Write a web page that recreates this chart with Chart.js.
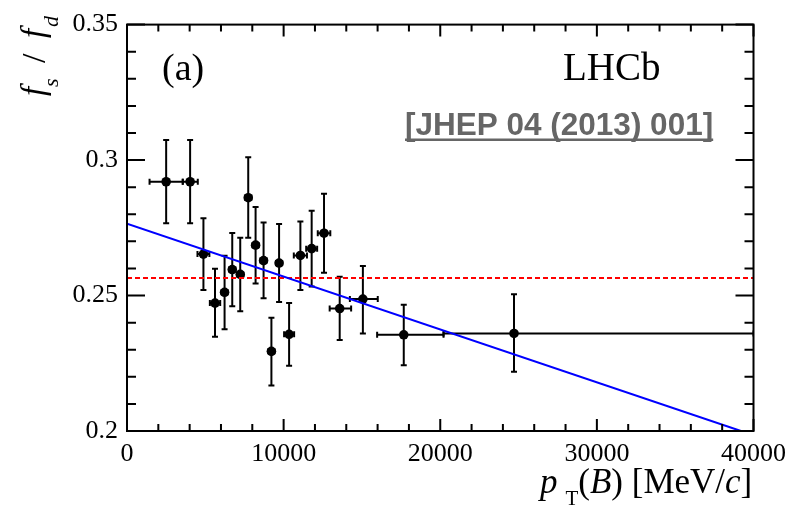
<!DOCTYPE html>
<html>
<head>
<meta charset="utf-8">
<script src="https://cdn.jsdelivr.net/npm/chart.js@4.4.1/dist/chart.umd.min.js"></script>
<style>
    html, body { margin: 0; padding: 0; background: #ffffff; }
    #wrap { width: 794px; height: 509px; position: relative; }
</style>
</head>
<body>
<div id="wrap"><canvas id="fsfdChart"></canvas></div>
<script>
// f_s/f_d in bins of B transverse momentum
const ptValues = [2500, 4030, 4880, 5620, 6230, 6720, 7230, 7740, 8210, 8720, 9220, 9710, 10350, 11070, 11790, 12580, 13580, 15060, 17670, 24710];
const ptErrLow = [1060, 470, 380, 330, 200, 200, 200, 200, 200, 200, 200, 200, 320, 420, 350, 400, 640, 830, 1700, 4500];
const ptErrHigh = [1060, 490, 380, 330, 200, 200, 200, 200, 200, 200, 200, 200, 320, 420, 350, 400, 730, 950, 2540, 15290];
const ratioValues = [0.2920, 0.2920, 0.2653, 0.2472, 0.2512, 0.2596, 0.2578, 0.2861, 0.2686, 0.2629, 0.2294, 0.2620, 0.2357, 0.2648, 0.2673, 0.2730, 0.2452, 0.2487, 0.2355, 0.2360];
const ratioErrHigh = [0.0154, 0.0154, 0.0132, 0.0127, 0.0135, 0.0135, 0.0135, 0.0149, 0.0141, 0.0141, 0.0124, 0.0144, 0.0115, 0.0125, 0.0140, 0.0146, 0.0117, 0.0122, 0.0111, 0.0145];
const ratioErrLow = [0.0153, 0.0153, 0.0133, 0.0124, 0.0136, 0.0136, 0.0136, 0.0148, 0.0142, 0.0139, 0.0126, 0.0144, 0.0116, 0.0128, 0.0140, 0.0146, 0.0116, 0.0127, 0.0112, 0.0141];

// linear fit and average value
const fitX = [0, 39200];
const fitY = [0.2765, 0.2];
const averageX = [0, 40000];
const averageY = [0.2565, 0.2565];

// axis ticks
const xTickValues = [0, 10000, 20000, 30000, 40000];
const xTickLabels = ['0', '10000', '20000', '30000', '40000'];
const yTickValues = [0.2, 0.25, 0.3, 0.35];
const yTickLabels = ['0.2', '0.25', '0.3', '0.35'];

const SERIF = '"Liberation Serif", "Times New Roman", Tinos, "DejaVu Serif", serif';

// error bars with small end caps, drawn under the markers
const errorBarPlugin = {
    id: 'errorBars',
    beforeDatasetsDraw(chart) {
        const ctx = chart.ctx;
        const xs = chart.scales.x, ys = chart.scales.y;
        const area = chart.chartArea;
        const cap = 3;
        ctx.save();
        ctx.beginPath();
        ctx.rect(area.left, area.top, area.right - area.left, area.bottom - area.top);
        ctx.clip();
        ctx.strokeStyle = '#000000';
        ctx.lineWidth = 2;
        ptValues.forEach((x, i) => {
            const px = xs.getPixelForValue(x);
            const py = ys.getPixelForValue(ratioValues[i]);
            const x0 = xs.getPixelForValue(x - ptErrLow[i]);
            const x1 = xs.getPixelForValue(x + ptErrHigh[i]);
            const y0 = ys.getPixelForValue(ratioValues[i] - ratioErrLow[i]);
            const y1 = ys.getPixelForValue(ratioValues[i] + ratioErrHigh[i]);
            ctx.beginPath();
            ctx.moveTo(x0, py); ctx.lineTo(x1, py);
            ctx.moveTo(px, y0); ctx.lineTo(px, y1);
            // caps
            ctx.moveTo(x0, py - cap); ctx.lineTo(x0, py + cap);
            ctx.moveTo(x1, py - cap); ctx.lineTo(x1, py + cap);
            ctx.moveTo(px - cap, y0); ctx.lineTo(px + cap, y0);
            ctx.moveTo(px - cap, y1); ctx.lineTo(px + cap, y1);
            ctx.stroke();
        });
        ctx.restore();
    }
};

// frame with inward ticks on all four sides, plus the labels
const framePlugin = {
    id: 'rootFrame',
    afterDraw(chart) {
        const ctx = chart.ctx;
        const xs = chart.scales.x, ys = chart.scales.y;
        const a = chart.chartArea;
        ctx.save();
        ctx.strokeStyle = '#000000';
        ctx.lineWidth = 2;
        ctx.strokeRect(a.left, a.top, a.right - a.left, a.bottom - a.top);

        ctx.beginPath();
        for (let v = 0; v <= 40000; v += 2000) {
            const px = xs.getPixelForValue(v);
            const len = v % 10000 === 0 ? 12 : 7;
            ctx.moveTo(px, a.bottom); ctx.lineTo(px, a.bottom - len);
            ctx.moveTo(px, a.top); ctx.lineTo(px, a.top + len);
        }
        for (let k = 0; k <= 15; k++) {
            const py = ys.getPixelForValue(0.2 + k * 0.01);
            const len = k % 5 === 0 ? 18 : 9;
            ctx.moveTo(a.left, py); ctx.lineTo(a.left + len, py);
            ctx.moveTo(a.right, py); ctx.lineTo(a.right - len, py);
        }
        ctx.stroke();

        ctx.fillStyle = '#000000';
        ctx.textBaseline = 'alphabetic';
        ctx.textAlign = 'left';

        // (a) and LHCb
        ctx.font = '38px ' + SERIF;
        ctx.fillText('(a)', 162, 80);
        ctx.font = '39px ' + SERIF;
        ctx.fillText('LHCb', 563, 80);

        // journal reference, underlined
        ctx.fillStyle = '#666666';
        ctx.font = 'bold 31.5px "Liberation Sans", Arial, sans-serif';
        const ref = '[JHEP 04 (2013) 001]';
        const refW = ctx.measureText(ref).width;
        ctx.fillText(ref, 405, 135);
        ctx.fillRect(405, 138.5, refW, 2.5);

        // x title: p_T(B) [MeV/c]
        ctx.fillStyle = '#000000';
        let x = 540;
        const base = 493;
        const seg = (text, font, dx, dy) => {
            ctx.font = font;
            ctx.fillText(text, x + dx, base + dy);
            x += dx + ctx.measureText(text).width;
        };
        seg('p', 'italic 35px ' + SERIF, 0, 0);
        seg('T', '21px ' + SERIF, 8, 12);
        seg('(', '35px ' + SERIF, 0, 0);
        seg('B', 'italic 35px ' + SERIF, 0, 0);
        seg(') [MeV/', '35px ' + SERIF, 0, 0);
        seg('c', 'italic 35px ' + SERIF, 0, 0);
        seg(']', '35px ' + SERIF, 0, 0);

        // y title: f_s / f_d, rotated to read upwards
        ctx.translate(44, 100);
        ctx.rotate(-Math.PI / 2);
        const ytext = (text, font, along, drop) => {
            ctx.font = font;
            ctx.fillText(text, along, drop);
        };
        ytext('f', 'italic 33px ' + SERIF, 4, 0);
        ytext('s', 'italic 22px ' + SERIF, 13, 14);
        ytext('/', '34px ' + SERIF, 37, 1);
        ytext('f', 'italic 33px ' + SERIF, 62, 0);
        ytext('d', 'italic 22px ' + SERIF, 73, 14);
        ctx.restore();
    }
};

const ctx = document.getElementById('fsfdChart').getContext('2d');
const chart = new Chart(ctx, {
    type: 'scatter',
    data: {
        datasets: [
            {
                label: 'fit',
                data: fitX.map((x, i) => ({ x: x, y: fitY[i] })),
                showLine: true,
                borderColor: '#0000ff',
                borderWidth: 2,
                pointRadius: 0,
                order: 0
            },
            {
                label: 'average',
                data: averageX.map((x, i) => ({ x: x, y: averageY[i] })),
                showLine: true,
                borderColor: '#ff0000',
                borderWidth: 2,
                borderDash: [5, 3],
                pointRadius: 0,
                order: 0
            },
            {
                label: 'data',
                data: ptValues.map((x, i) => ({ x: x, y: ratioValues[i] })),
                pointRadius: 4.8,
                pointBorderWidth: 0,
                pointBackgroundColor: '#000000',
                pointBorderColor: '#000000',
                order: 1
            }
        ]
    },
    options: {
        responsive: true,
        maintainAspectRatio: false,
        animation: false,
        layout: { padding: { top: 15, right: 38, left: 0, bottom: 0 } },
        plugins: {
            legend: { display: false },
            tooltip: { enabled: false }
        },
        scales: {
            x: {
                type: 'linear',
                min: 0,
                max: 40000,
                grid: { display: false, drawTicks: false },
                border: { display: false },
                afterBuildTicks: (s) => { s.ticks = xTickValues.map(v => ({ value: v })); },
                afterFit: (s) => { s.height = 78; },
                ticks: {
                    autoSkip: false,
                    maxRotation: 0,
                    padding: 8,
                    color: '#000000',
                    font: { family: SERIF, size: 26 },
                    callback: (v, i) => xTickLabels[i]
                }
            },
            y: {
                type: 'linear',
                min: 0.2,
                max: 0.35,
                grid: { display: false, drawTicks: false },
                border: { display: false },
                afterBuildTicks: (s) => { s.ticks = yTickValues.map(v => ({ value: v })); },
                afterFit: (s) => { s.width = 127; },
                ticks: {
                    autoSkip: false,
                    padding: 9,
                    color: '#000000',
                    font: { family: SERIF, size: 26 },
                    callback: (v, i) => yTickLabels[i]
                }
            }
        }
    },
    plugins: [errorBarPlugin, framePlugin]
});
</script>
</body>
</html>
